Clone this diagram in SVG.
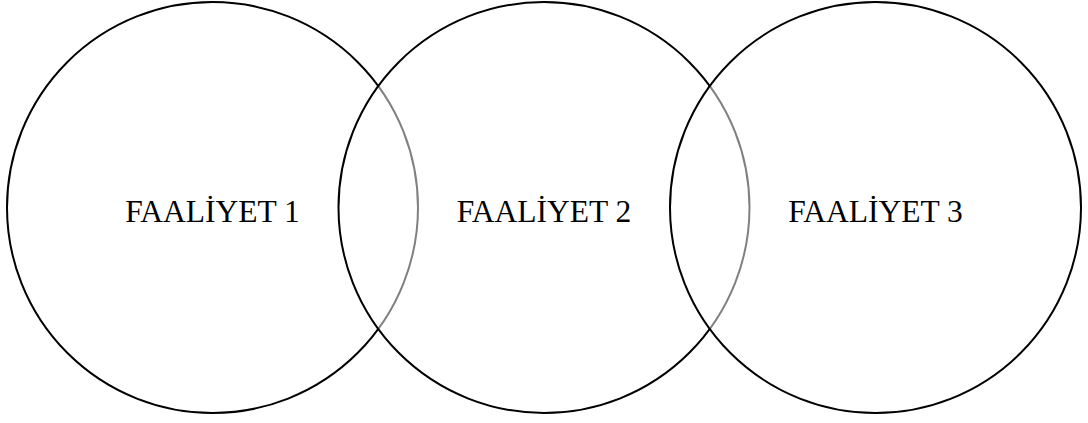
<svg xmlns="http://www.w3.org/2000/svg" width="1088" height="423" viewBox="0 0 1088 423">
<style>
.c{fill:#fff;fill-opacity:0.5;stroke:#000;stroke-width:2}
.t{font-family:"Liberation Serif","Times New Roman",serif;font-size:31.5px;fill:#000;text-anchor:middle}
</style>
<rect width="1088" height="423" fill="#fff"/>
<g id="node1"><circle class="c" cx="212.5" cy="207.5" r="205.5"/><text class="t" x="212.5" y="222">FAALİYET 1</text></g>
<g id="node2"><circle class="c" cx="544" cy="207.5" r="205.5"/><text class="t" x="544" y="222">FAALİYET 2</text></g>
<g id="node3"><circle class="c" cx="875.5" cy="207.5" r="205.5"/><text class="t" x="875.5" y="222">FAALİYET 3</text></g>
<g id="connectors"></g>
</svg>
